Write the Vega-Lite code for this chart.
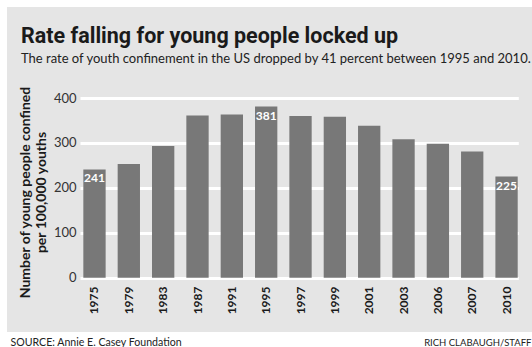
{
  "$schema": "https://vega.github.io/schema/vega-lite/v6.json",
  "width": 525,
  "height": 325,
  "autosize": "none",
  "padding": {"left": 7, "top": 7, "right": 0, "bottom": 15},
  "background": "#ffffff",
  "config": {
    "view": {"fill": "#e5e5e5", "stroke": null},
    "font": "Lato"
  },
  "title": {
    "text": "Rate falling for young people locked up",
    "subtitle": "The rate of youth confinement in the US dropped by 41 percent between 1995 and 2010.",
    "anchor": "start",
    "frame": "group",
    "offset": -59,
    "dx": 14,
    "font": "Roboto",
    "fontSize": 21.5,
    "fontWeight": "bold",
    "color": "#1a1a1a",
    "subtitleFont": "Lato",
    "subtitleFontSize": 13,
    "subtitleColor": "#222222",
    "subtitlePadding": 6
  },
  "data": {
    "values": [
      {"year": "1975", "rate": 241, "label": "241"},
      {"year": "1979", "rate": 253, "label": ""},
      {"year": "1983", "rate": 293, "label": ""},
      {"year": "1987", "rate": 361, "label": ""},
      {"year": "1991", "rate": 363, "label": ""},
      {"year": "1995", "rate": 381, "label": "381"},
      {"year": "1997", "rate": 360, "label": ""},
      {"year": "1999", "rate": 358, "label": ""},
      {"year": "2001", "rate": 338, "label": ""},
      {"year": "2003", "rate": 308, "label": ""},
      {"year": "2006", "rate": 298, "label": ""},
      {"year": "2007", "rate": 281, "label": ""},
      {"year": "2010", "rate": 225, "label": "225"}
    ]
  },
  "encoding": {
    "x": {
      "field": "year",
      "type": "nominal",
      "sort": null,
      "scale": {"range": [73, 511.3], "paddingInner": 0.35, "paddingOuter": 0.057, "align": 0.85},
      "axis": {
        "orient": "bottom",
        "offset": -46,
        "labelAngle": -90,
        "labelPadding": 0,
        "labelFontSize": 12,
        "labelFontWeight": "bold",
        "labelColor": "#1a1a1a",
        "labelFont": "Lato",
        "ticks": false,
        "domain": false,
        "grid": false,
        "title": "SOURCE: Annie E. Casey Foundation",
        "titleFont": "Lato",
        "titleFontSize": 10.6,
        "titleFontWeight": "normal",
        "titleColor": "#222222",
        "titleAnchor": "start",
        "titleAlign": "left",
        "titleBaseline": "alphabetic",
        "titleX": 3,
        "titleY": 59
      }
    },
    "y": {
      "field": "rate",
      "type": "quantitative",
      "scale": {"domain": [0, 400], "range": [270.7, 91], "nice": false}
    }
  },
  "layer": [
    {
      "mark": {"type": "bar", "color": "#787878"},
      "encoding": {
        "y": {
          "field": "rate",
          "type": "quantitative",
          "axis": {
            "orient": "left",
            "offset": -69,
            "values": [0, 100, 200, 300, 400],
            "labelPadding": 0,
            "labelFontSize": 13,
            "labelColor": "#333333",
            "labelFont": "Lato",
            "ticks": false,
            "domain": false,
            "grid": true,
            "gridColor": "#ffffff",
            "gridWidth": 3,
            "gridOpacity": 1,
            "title": ["Number of young people confined", "per 100,000 youths"],
            "titleFont": "Lato",
            "titleFontSize": 14,
            "titleFontWeight": "bold",
            "titleColor": "#1a1a1a",
            "titleAngle": -90,
            "titleAlign": "center",
            "titleBaseline": "middle",
            "titleX": -51,
            "titleY": 185,
            "titleLineHeight": 16
          }
        }
      }
    },
    {
      "mark": {"type": "text", "color": "#ffffff", "font": "Lato", "fontWeight": "bold", "fontSize": 12, "baseline": "top", "dy": 4},
      "encoding": {
        "text": {"field": "label"},
        "y": {
          "field": "rate",
          "type": "quantitative",
          "axis": {
            "orient": "right",
            "labels": false,
            "ticks": false,
            "domain": false,
            "grid": false,
            "title": "RICH CLABAUGH/STAFF",
            "titleFont": "Lato",
            "titleFontSize": 9.5,
            "titleFontWeight": "normal",
            "titleColor": "#222222",
            "titleAngle": 0,
            "titleAlign": "right",
            "titleBaseline": "alphabetic",
            "titleX": -1,
            "titleY": 338
          }
        }
      }
    }
  ],
  "resolve": {"axis": {"y": "independent"}}
}
